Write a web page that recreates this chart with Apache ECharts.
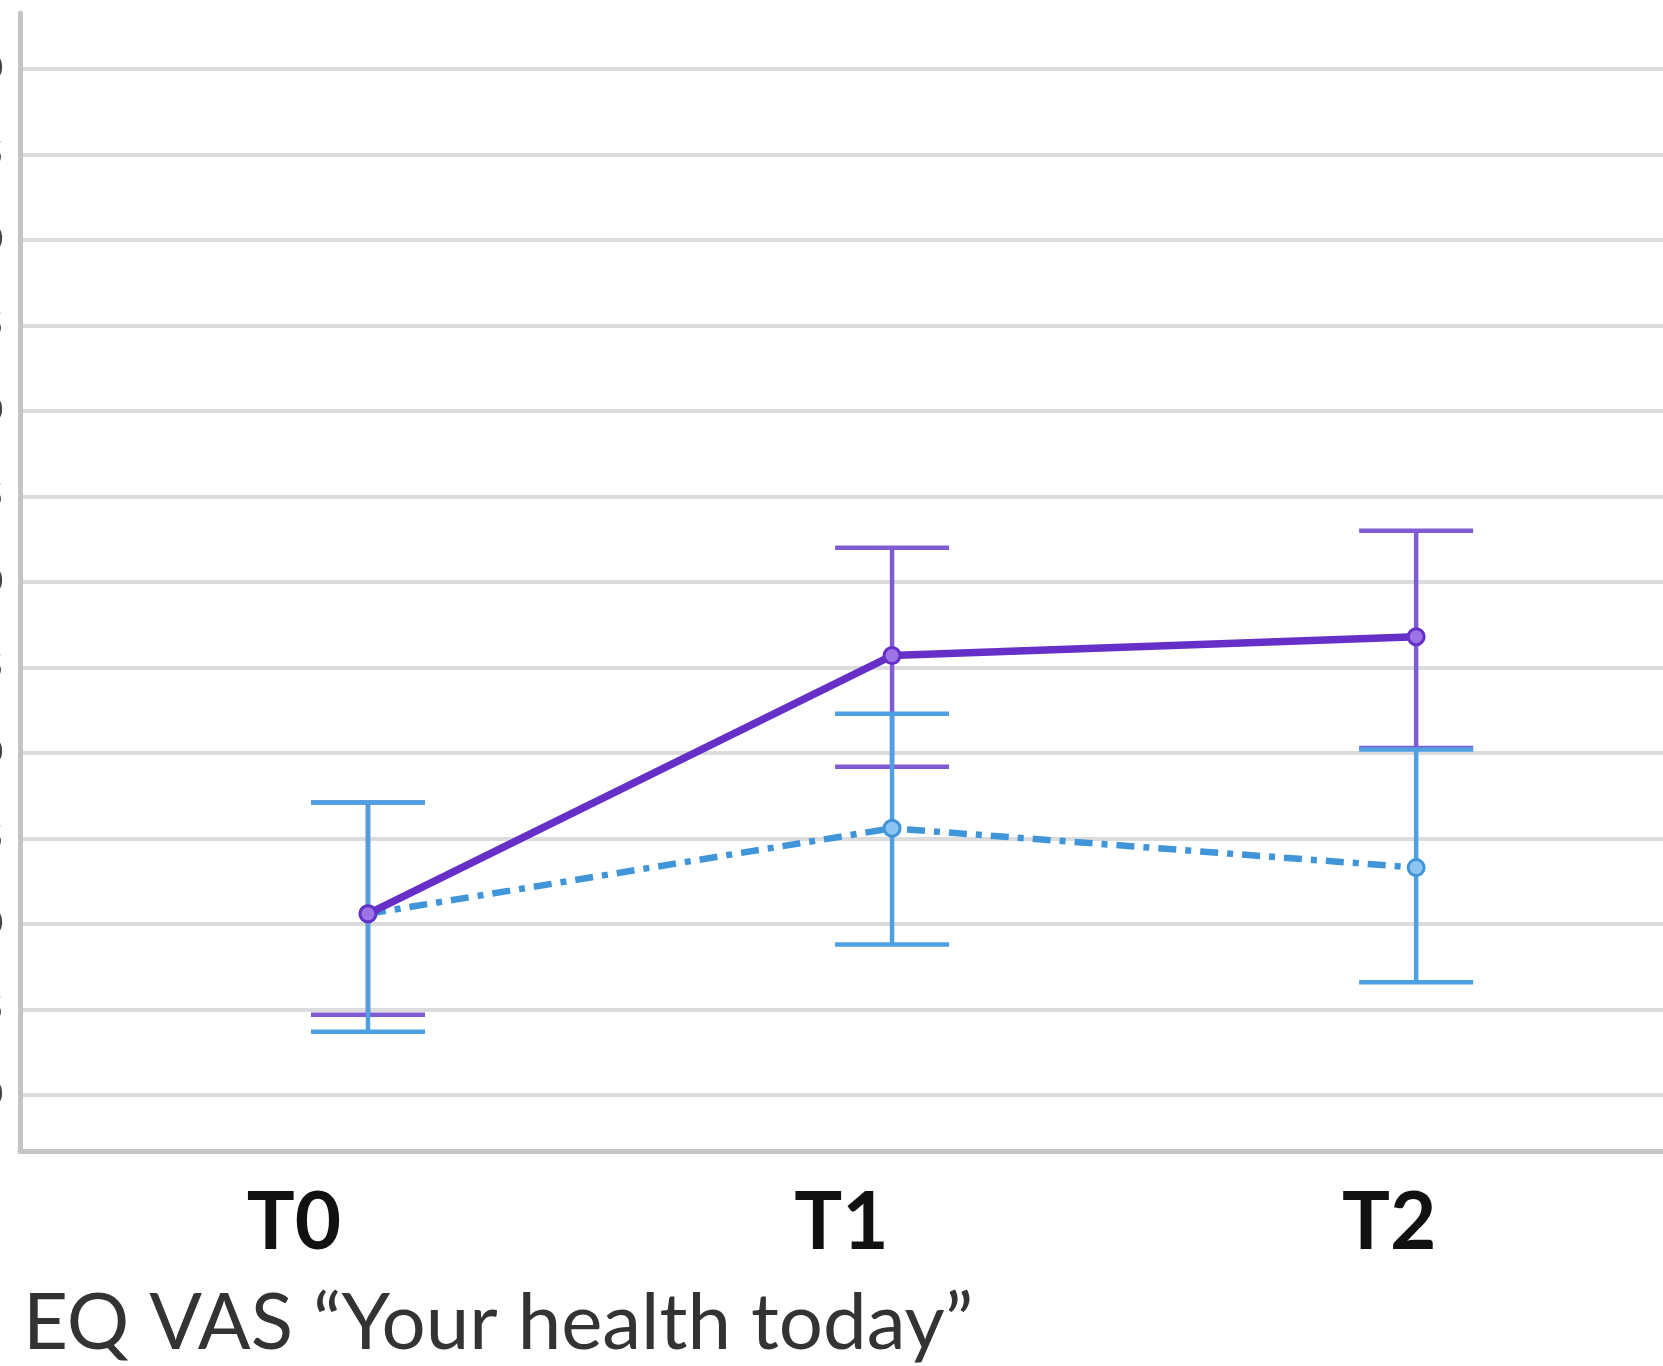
<!DOCTYPE html>
<html>
<head>
<meta charset="utf-8">
<script src="https://cdn.jsdelivr.net/npm/echarts@6/dist/echarts.min.js"></script>
<style>
html,body{margin:0;padding:0;background:#fff;}
#chart{width:1663px;height:1366px;}
</style>
</head>
<body>
<div id="chart"></div>
<script>
// ---- data ----
const categories = ['T0', 'T1', 'T2'];
const yTicks = [40, 45, 50, 55, 60, 65, 70, 75, 80, 85, 90, 95, 100];
const purpleMean = [50.6, 65.7, 66.8];
const purpleHigh = [57.1, 72.0, 73.0];
const purpleLow  = [44.7, 59.2, 60.3];
const blueMean = [50.6, 55.6, 53.3];
const blueHigh = [57.1, 62.3, 60.2];
const blueLow  = [43.7, 48.8, 46.6];
const titleText = 'EQ VAS \u201cYour health today\u201d';

const purple = '#6630c8';
const purpleBar = '#7f5cd4';
const blue = '#3f95d8';
const blueBar = '#4ea0e2';

function pts(arr){ return arr.map((v,i)=>[i, v]); }
function bars(lo, hi){ return lo.map((v,i)=>[i, v, hi[i]]); }

function errRender(color){
  return function(params, api){
    const x = api.value(0);
    const pLo = api.coord([x, api.value(1)]);
    const pHi = api.coord([x, api.value(2)]);
    const hw = 57;
    const st = {stroke: color, lineWidth: 4.5};
    return {type:'group', children:[
      {type:'line', shape:{x1:pHi[0], y1:pHi[1], x2:pLo[0], y2:pLo[1]}, style:st},
      {type:'line', shape:{x1:pHi[0]-hw, y1:pHi[1], x2:pHi[0]+hw, y2:pHi[1]}, style:st},
      {type:'line', shape:{x1:pLo[0]-hw, y1:pLo[1], x2:pLo[0]+hw, y2:pLo[1]}, style:st}
    ]};
  };
}

const chart = echarts.init(document.getElementById('chart'));
chart.setOption({
  backgroundColor: '#ffffff',
  animation: false,
  title: {
    text: titleText,
    left: 18, top: 1280,
    textStyle: {fontFamily: 'Lato', fontSize: 78, fontWeight: 'normal', color: '#333333'}
  },
  grid: {left: 20, right: 0, top: 13, bottom: 215, containLabel: false, outerBoundsMode: 'none'},
  xAxis: [
    {
      type: 'category', data: categories, boundaryGap: true,
      axisLine: {show: true, onZero: false, lineStyle: {color: '#c4c4c4', width: 5}},
      axisTick: {show: false},
      splitLine: {show: false},
      axisLabel: {margin: 32, fontFamily: 'Lato', fontWeight: 'bold', fontSize: 80, color: '#111111'}
    },
    {
      type: 'value', min: -0.664, max: 2.471, show: false
    }
  ],
  yAxis: {
    type: 'value', min: 36.73, max: 103.27,
    axisLine: {show: true, onZero: false, lineStyle: {color: '#c4c4c4', width: 5}},
    axisTick: {show: false, customValues: yTicks},
    axisLabel: {customValues: yTicks, margin: 17, fontFamily: 'Lato', fontSize: 32, color: '#444444'},
    splitLine: {show: true, lineStyle: {color: '#dcdcdc', width: 4}}
  },
  series: [
    {
      type: 'custom', name: 'purpleCI', xAxisIndex: 1, yAxisIndex: 0,
      data: bars(purpleLow, purpleHigh), encode: {x: 0, y: [1, 2]},
      renderItem: errRender(purpleBar), z: 2
    },
    {
      type: 'custom', name: 'blueCI', xAxisIndex: 1, yAxisIndex: 0,
      data: bars(blueLow, blueHigh), encode: {x: 0, y: [1, 2]},
      renderItem: errRender(blueBar), z: 2
    },
    {
      type: 'line', name: 'blue', xAxisIndex: 1, yAxisIndex: 0,
      data: pts(blueMean),
      lineStyle: {color: blue, width: 6.5, type: [18, 9, 6, 9]},
      symbol: 'circle', symbolSize: 16,
      itemStyle: {color: '#8cc6f0', borderColor: blue, borderWidth: 3}, z: 3
    },
    {
      type: 'line', name: 'purple', xAxisIndex: 1, yAxisIndex: 0,
      data: pts(purpleMean),
      lineStyle: {color: purple, width: 7.5},
      symbol: 'circle', symbolSize: 16,
      itemStyle: {color: '#9c74e6', borderColor: purple, borderWidth: 3}, z: 4
    }
  ]
});
</script>
</body>
</html>
